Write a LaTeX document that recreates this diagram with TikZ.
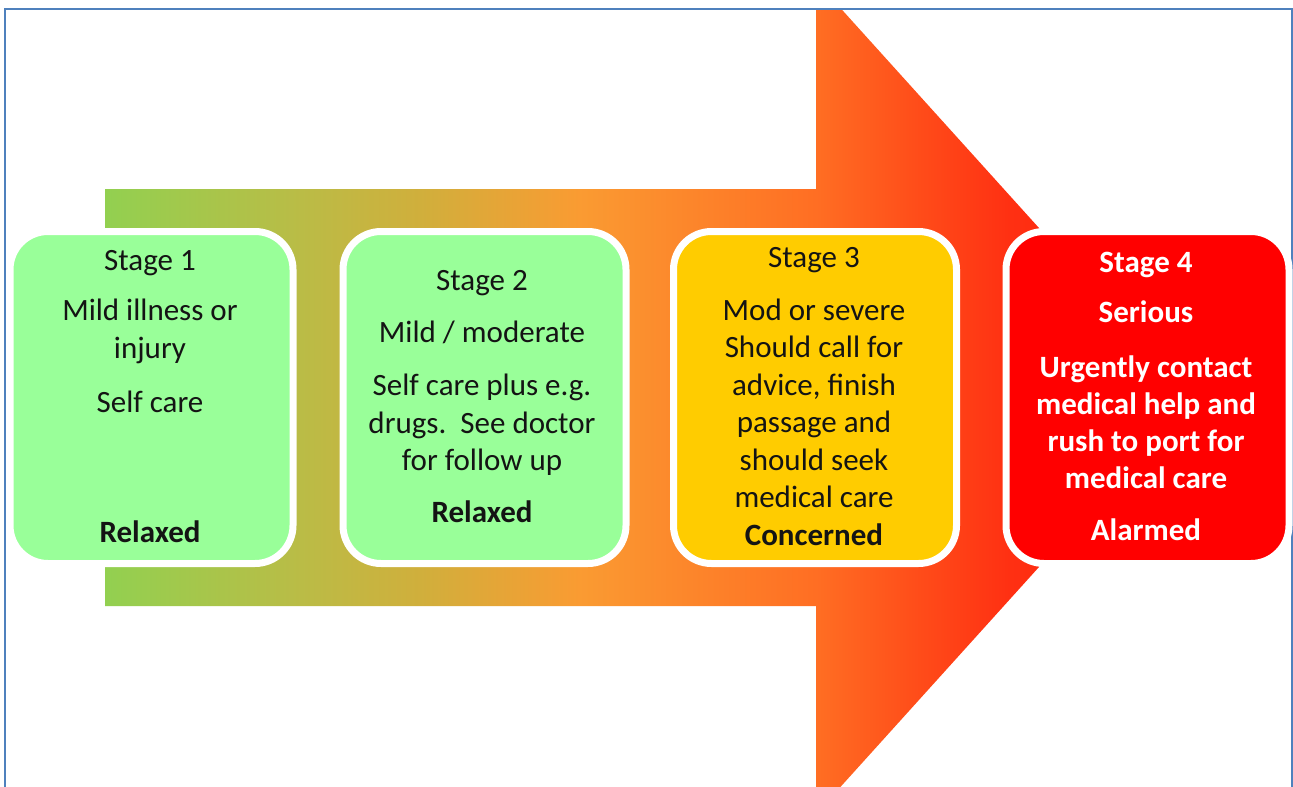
\documentclass[tikz,border=0pt]{standalone}
\usepackage{fontspec}
\setmainfont{Carlito}
\definecolor{framec}{RGB}{79,129,189}
\definecolor{lgreen}{RGB}{153,255,153}
\definecolor{amber}{RGB}{255,204,0}
\definecolor{redbox}{RGB}{255,0,0}
\definecolor{ink}{RGB}{20,20,20}
\pgfdeclarehorizontalshading{arrowgrad}{100bp}{
  rgb(0bp)=(0.573,0.816,0.314);
  rgb(25bp)=(0.573,0.816,0.314);
  rgb(34bp)=(0.729,0.737,0.275);
  rgb(39.5bp)=(0.816,0.686,0.235);
  rgb(46.8bp)=(0.98,0.608,0.196);
  rgb(57.7bp)=(1,0.431,0.137);
  rgb(62.6bp)=(1,0.294,0.098);
  rgb(66.6bp)=(1,0.188,0.071);
  rgb(75bp)=(1,0.118,0.039);
  rgb(100bp)=(1,0.118,0.039)}
\tikzset{
  stagebox/.style={draw=white, line width=7pt, rounded corners=38pt,
    minimum width=283pt, minimum height=332pt, inner sep=0pt},
  txt/.style={font=\fontsize{31}{37}\selectfont, text=ink, inner sep=0pt, anchor=base},
  btxt/.style={txt, font=\fontsize{31}{37}\selectfont\bfseries},
  wtxt/.style={btxt, text=white}
}
\begin{document}
\begin{tikzpicture}[x=1pt,y=-1pt]
\useasboundingbox (0,0) rectangle (1293,787);
\fill[white] (0,0) rectangle (1293,787);
% big arrow
\begin{scope}
\clip (5,10) rectangle (1292,787);
\shade[shading=arrowgrad]
  (105,189) -- (816,189) -- (816,-19) -- (1192,397.5) -- (816,814) -- (816,606) -- (105,606) -- cycle;
\end{scope}
% frame
\draw[framec, line width=1.6pt] (5,787) -- (5,9) -- (1292,9) -- (1292,787);
% boxes
\node[stagebox, fill=lgreen] (b1) at (151.5,397.5) {};
\node[stagebox, fill=lgreen] (b2) at (484.5,397.5) {};
\node[stagebox, fill=amber] (b3) at (815,397.5) {};
\node[stagebox, fill=redbox] (b4) at (1147.5,397.5) {};
% box 1 text
\node[txt] (t1a) at (150,270) {Stage 1};
\node[txt] (t1b) at (150,320) {Mild illness or};
\node[txt] (t1c) at (150,358) {injury};
\node[txt] (t1d) at (150,412) {Self care};
\node[btxt] (t1e) at (150,542) {Relaxed};
% box 2 text
\node[txt] (t2a) at (482,290) {Stage 2};
\node[txt] (t2b) at (482,342) {Mild / moderate};
\node[txt] (t2c) at (482,395) {Self care plus e.g.};
\node[txt] (t2d) at (482,433) {drugs.\ \ See doctor};
\node[txt] (t2e) at (482,470) {for follow up};
\node[btxt] (t2f) at (482,522) {Relaxed};
% box 3 text
\node[txt] (t3a) at (814,267) {Stage 3};
\node[txt] (t3b) at (814,320) {Mod or severe};
\node[txt] (t3c) at (814,357) {Should call for};
\node[txt] (t3d) at (814,395) {advice, finish};
\node[txt] (t3e) at (814,432) {passage and};
\node[txt] (t3f) at (814,470) {should seek};
\node[txt] (t3g) at (814,507) {medical care};
\node[btxt] (t3h) at (814,545) {Concerned};
% box 4 text
\node[wtxt] (t4a) at (1146,272) {Stage 4};
\node[wtxt] (t4b) at (1146,322) {Serious};
\node[wtxt] (t4c) at (1146,377) {Urgently contact};
\node[wtxt] (t4d) at (1146,414) {medical help and};
\node[wtxt] (t4e) at (1146,451) {rush to port for};
\node[wtxt] (t4f) at (1146,488) {medical care};
\node[wtxt] (t4g) at (1146,540) {Alarmed};
\end{tikzpicture}
\end{document}
